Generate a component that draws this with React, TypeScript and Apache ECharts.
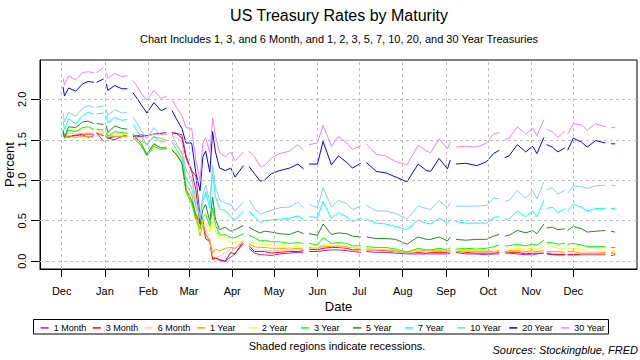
import React, { useEffect, useRef } from "react";
import * as echarts from "echarts";

const FONT = '"Liberation Sans", Arial, sans-serif';

const dates: string[] = [
  "2019-12-02", "2019-12-03", "2019-12-06", "2019-12-11", "2019-12-16", "2019-12-20", "2019-12-24", "2019-12-25", "2019-12-26", "2019-12-31",
  "2020-01-01", "2020-01-02", "2020-01-03", "2020-01-08", "2020-01-13", "2020-01-17", "2020-01-20", "2020-01-21", "2020-01-24", "2020-01-27",
  "2020-01-31", "2020-02-05", "2020-02-10", "2020-02-14", "2020-02-17", "2020-02-18", "2020-02-21", "2020-02-25", "2020-02-28", "2020-03-03",
  "2020-03-06", "2020-03-09", "2020-03-11", "2020-03-13", "2020-03-16", "2020-03-18", "2020-03-20", "2020-03-23", "2020-03-27", "2020-03-31",
  "2020-04-03", "2020-04-09", "2020-04-10", "2020-04-13", "2020-04-17", "2020-04-21", "2020-04-24", "2020-04-29", "2020-05-05", "2020-05-12",
  "2020-05-18", "2020-05-22", "2020-05-25", "2020-05-26", "2020-06-01", "2020-06-05", "2020-06-11", "2020-06-16", "2020-06-22", "2020-06-26",
  "2020-07-02", "2020-07-03", "2020-07-06", "2020-07-13", "2020-07-20", "2020-07-27", "2020-08-04", "2020-08-12", "2020-08-18", "2020-08-21",
  "2020-08-27", "2020-09-02", "2020-09-04", "2020-09-07", "2020-09-08", "2020-09-15", "2020-09-23", "2020-09-30", "2020-10-05", "2020-10-09",
  "2020-10-12", "2020-10-13", "2020-10-16", "2020-10-22", "2020-10-28", "2020-11-02", "2020-11-05", "2020-11-10", "2020-11-11", "2020-11-12",
  "2020-11-16", "2020-11-20", "2020-11-25", "2020-11-26", "2020-11-27", "2020-12-01", "2020-12-07", "2020-12-11", "2020-12-17", "2020-12-24",
  "2020-12-25", "2020-12-28", "2020-12-31",
];

const month1 = [
  1.59, 1.56, 1.53, 1.56, 1.56, 1.53, 1.55, null, 1.59, 1.48,
  null, 1.53, 1.52, 1.50, 1.54, 1.56, null, 1.54, 1.54, 1.54,
  1.55, 1.57, 1.57, 1.57, null, 1.57, 1.58, 1.56, 1.30, 1.12,
  1.05, 0.57, 0.50, 0.33, 0.25, 0.04, 0.04, 0.01, 0.00, 0.05,
  0.09, 0.22, null, 0.16, 0.10, 0.08, 0.08, 0.07, 0.09, 0.10,
  0.11, 0.11, null, 0.12, 0.12, 0.13, 0.14, 0.14, 0.13, 0.12,
  0.11, null, 0.12, 0.11, 0.11, 0.10, 0.09, 0.09, 0.09, 0.09,
  0.09, 0.09, 0.10, null, 0.11, 0.09, 0.09, 0.08, 0.09, 0.09,
  null, 0.10, 0.10, 0.09, 0.08, 0.08, 0.09, 0.10, null, 0.09,
  0.08, 0.08, 0.08, null, 0.08, 0.08, 0.08, 0.08, 0.08, 0.08,
  null, 0.07, 0.08,
];

const month3 = [
  1.58, 1.53, 1.54, 1.55, 1.57, 1.57, 1.57, null, 1.58, 1.55,
  null, 1.54, 1.52, 1.54, 1.54, 1.57, null, 1.55, 1.55, 1.56,
  1.55, 1.57, 1.58, 1.59, null, 1.59, 1.58, 1.52, 1.27, 1.11,
  0.88, 0.45, 0.48, 0.28, 0.24, 0.02, 0.04, 0.02, 0.00, 0.11,
  0.09, 0.25, null, 0.19, 0.12, 0.12, 0.12, 0.10, 0.11, 0.12,
  0.12, 0.13, null, 0.15, 0.14, 0.16, 0.17, 0.17, 0.16, 0.14,
  0.14, null, 0.14, 0.14, 0.13, 0.12, 0.10, 0.11, 0.10, 0.11,
  0.11, 0.11, 0.12, null, 0.13, 0.11, 0.10, 0.10, 0.10, 0.11,
  null, 0.12, 0.11, 0.11, 0.09, 0.10, 0.10, 0.11, null, 0.10,
  0.09, 0.08, 0.08, null, 0.08, 0.08, 0.09, 0.09, 0.09, 0.09,
  null, 0.10, 0.09,
];

const month6 = [
  1.60, 1.56, 1.58, 1.57, 1.58, 1.59, 1.58, null, 1.59, 1.60,
  null, 1.57, 1.55, 1.56, 1.56, 1.56, null, 1.56, 1.53, 1.52,
  1.54, 1.57, 1.56, 1.56, null, 1.55, 1.53, 1.47, 1.11, 1.03,
  0.66, 0.39, 0.46, 0.40, 0.29, 0.06, 0.05, 0.06, 0.11, 0.15,
  0.15, 0.26, null, 0.23, 0.14, 0.14, 0.14, 0.13, 0.13, 0.13,
  0.15, 0.14, null, 0.17, 0.16, 0.18, 0.19, 0.18, 0.17, 0.17,
  0.16, null, 0.16, 0.15, 0.14, 0.12, 0.10, 0.12, 0.11, 0.12,
  0.12, 0.12, 0.12, null, 0.13, 0.12, 0.11, 0.12, 0.11, 0.12,
  null, 0.12, 0.12, 0.12, 0.11, 0.11, 0.11, 0.11, null, 0.11,
  0.10, 0.10, 0.10, null, 0.10, 0.10, 0.09, 0.09, 0.09, 0.09,
  null, 0.10, 0.09,
];

const year1 = [
  1.58, 1.53, 1.55, 1.53, 1.54, 1.54, 1.53, null, 1.54, 1.59,
  null, 1.56, 1.55, 1.54, 1.54, 1.54, null, 1.53, 1.51, 1.48,
  1.45, 1.53, 1.52, 1.49, null, 1.48, 1.43, 1.34, 0.95, 0.83,
  0.56, 0.31, 0.45, 0.34, 0.24, 0.10, 0.15, 0.13, 0.16, 0.17,
  0.16, 0.24, null, 0.21, 0.18, 0.17, 0.17, 0.16, 0.16, 0.15,
  0.16, 0.15, null, 0.17, 0.16, 0.19, 0.18, 0.19, 0.18, 0.17,
  0.15, null, 0.15, 0.14, 0.14, 0.13, 0.12, 0.14, 0.13, 0.13,
  0.13, 0.13, 0.13, null, 0.13, 0.13, 0.12, 0.12, 0.12, 0.13,
  null, 0.12, 0.13, 0.13, 0.12, 0.13, 0.12, 0.13, null, 0.12,
  0.12, 0.12, 0.11, null, 0.12, 0.12, 0.10, 0.10, 0.10, 0.11,
  null, 0.11, 0.10,
];

const year2 = [
  1.61, 1.54, 1.61, 1.61, 1.63, 1.63, 1.63, null, 1.63, 1.58,
  null, 1.58, 1.53, 1.58, 1.58, 1.56, null, 1.52, 1.49, 1.43,
  1.33, 1.44, 1.40, 1.42, null, 1.39, 1.35, 1.24, 0.86, 0.72,
  0.49, 0.38, 0.50, 0.49, 0.36, 0.54, 0.37, 0.28, 0.30, 0.23,
  0.23, 0.25, null, 0.24, 0.22, 0.21, 0.21, 0.20, 0.19, 0.17,
  0.18, 0.17, null, 0.18, 0.16, 0.22, 0.19, 0.20, 0.19, 0.17,
  0.16, null, 0.15, 0.15, 0.15, 0.14, 0.11, 0.15, 0.14, 0.14,
  0.15, 0.13, 0.15, null, 0.13, 0.14, 0.13, 0.13, 0.14, 0.15,
  null, 0.14, 0.14, 0.16, 0.15, 0.16, 0.15, 0.18, null, 0.17,
  0.18, 0.16, 0.16, null, 0.16, 0.16, 0.15, 0.12, 0.12, 0.13,
  null, 0.13, 0.13,
];

const year3 = [
  1.59, 1.52, 1.62, 1.60, 1.65, 1.66, 1.63, null, 1.63, 1.62,
  null, 1.59, 1.54, 1.60, 1.59, 1.58, null, 1.52, 1.48, 1.42,
  1.30, 1.42, 1.38, 1.39, null, 1.37, 1.32, 1.21, 0.85, 0.71,
  0.52, 0.40, 0.55, 0.58, 0.43, 0.66, 0.45, 0.32, 0.33, 0.29,
  0.29, 0.34, null, 0.32, 0.29, 0.25, 0.26, 0.24, 0.24, 0.22,
  0.23, 0.22, null, 0.22, 0.20, 0.29, 0.22, 0.23, 0.22, 0.19,
  0.19, null, 0.18, 0.17, 0.17, 0.15, 0.11, 0.16, 0.14, 0.14,
  0.16, 0.14, 0.17, null, 0.15, 0.16, 0.15, 0.16, 0.18, 0.20,
  null, 0.19, 0.19, 0.21, 0.19, 0.21, 0.20, 0.26, null, 0.23,
  0.23, 0.21, 0.22, null, 0.21, 0.22, 0.20, 0.18, 0.18, 0.18,
  null, 0.17, 0.17,
];

const year5 = [
  1.62, 1.53, 1.66, 1.65, 1.72, 1.73, 1.70, null, 1.70, 1.69,
  null, 1.67, 1.59, 1.67, 1.64, 1.63, null, 1.57, 1.51, 1.45,
  1.32, 1.45, 1.40, 1.40, null, 1.37, 1.32, 1.22, 0.89, 0.75,
  0.58, 0.46, 0.64, 0.70, 0.49, 0.79, 0.52, 0.39, 0.42, 0.37,
  0.39, 0.44, null, 0.42, 0.38, 0.35, 0.37, 0.36, 0.34, 0.33,
  0.37, 0.34, null, 0.34, 0.32, 0.46, 0.33, 0.35, 0.34, 0.31,
  0.30, null, 0.30, 0.28, 0.28, 0.27, 0.21, 0.30, 0.27, 0.27,
  0.30, 0.25, 0.30, null, 0.27, 0.26, 0.27, 0.27, 0.31, 0.33,
  null, 0.31, 0.32, 0.38, 0.35, 0.38, 0.34, 0.46, null, 0.41,
  0.42, 0.39, 0.40, null, 0.38, 0.43, 0.40, 0.36, 0.37, 0.38,
  null, 0.37, 0.36,
];

const year7 = [
  1.73, 1.63, 1.76, 1.70, 1.80, 1.84, 1.82, null, 1.82, 1.83,
  null, 1.79, 1.71, 1.78, 1.74, 1.75, null, 1.69, 1.61, 1.54,
  1.43, 1.55, 1.47, 1.49, null, 1.46, 1.39, 1.27, 1.03, 0.90,
  0.68, 0.57, 0.73, 0.86, 0.65, 1.08, 0.80, 0.64, 0.63, 0.55,
  0.51, 0.62, null, 0.62, 0.55, 0.48, 0.50, 0.51, 0.52, 0.53,
  0.56, 0.52, null, 0.55, 0.54, 0.74, 0.53, 0.60, 0.55, 0.49,
  0.53, null, 0.52, 0.47, 0.46, 0.43, 0.39, 0.51, 0.47, 0.46,
  0.53, 0.47, 0.52, null, 0.49, 0.47, 0.47, 0.47, 0.54, 0.55,
  null, 0.52, 0.52, 0.62, 0.55, 0.62, 0.55, 0.75, null, 0.65,
  0.67, 0.60, 0.65, null, 0.62, 0.70, 0.67, 0.62, 0.65, 0.65,
  null, 0.65, 0.65,
];

const year10 = [
  1.83, 1.72, 1.84, 1.79, 1.89, 1.92, 1.90, null, 1.90, 1.92,
  null, 1.88, 1.80, 1.87, 1.83, 1.84, null, 1.78, 1.70, 1.61,
  1.51, 1.65, 1.56, 1.59, null, 1.56, 1.46, 1.33, 1.13, 1.02,
  0.76, 0.54, 0.82, 0.94, 0.73, 1.18, 0.92, 0.76, 0.72, 0.70,
  0.62, 0.73, null, 0.76, 0.65, 0.58, 0.60, 0.63, 0.66, 0.67,
  0.73, 0.66, null, 0.70, 0.66, 0.91, 0.67, 0.75, 0.71, 0.64,
  0.68, null, 0.69, 0.62, 0.62, 0.59, 0.52, 0.68, 0.65, 0.64,
  0.75, 0.66, 0.72, null, 0.68, 0.68, 0.68, 0.69, 0.78, 0.77,
  null, 0.74, 0.75, 0.87, 0.78, 0.87, 0.77, 0.98, null, 0.88,
  0.91, 0.83, 0.88, null, 0.84, 0.93, 0.92, 0.90, 0.93, 0.94,
  null, 0.94, 0.93,
];

const year20 = [
  2.15, 2.04, 2.14, 2.10, 2.19, 2.22, 2.21, null, 2.21, 2.25,
  null, 2.19, 2.11, 2.17, 2.13, 2.13, null, 2.08, 2.01, 1.93,
  1.83, 1.96, 1.86, 1.89, null, 1.86, 1.76, 1.64, 1.46, 1.46,
  1.09, 0.87, 1.29, 1.36, 1.10, 1.60, 1.35, 1.15, 1.12, 1.15,
  1.04, 1.18, null, 1.17, 1.08, 0.99, 1.00, 1.08, 1.12, 1.15,
  1.20, 1.14, null, 1.20, 1.20, 1.48, 1.19, 1.30, 1.22, 1.15,
  1.21, null, 1.22, 1.11, 1.09, 1.04, 0.98, 1.20, 1.12, 1.11,
  1.27, 1.14, 1.25, null, 1.20, 1.21, 1.18, 1.23, 1.33, 1.37,
  null, 1.28, 1.30, 1.44, 1.35, 1.42, 1.33, 1.53, null, 1.44,
  1.41, 1.35, 1.40, null, 1.37, 1.52, 1.47, 1.41, 1.49, 1.46,
  null, 1.45, 1.45,
];

const year30 = [
  2.26, 2.18, 2.29, 2.24, 2.33, 2.34, 2.33, null, 2.33, 2.39,
  null, 2.33, 2.26, 2.32, 2.28, 2.29, null, 2.23, 2.16, 2.07,
  1.99, 2.11, 2.01, 2.04, null, 2.00, 1.90, 1.80, 1.65, 1.64,
  1.25, 0.99, 1.46, 1.53, 1.34, 1.77, 1.55, 1.34, 1.29, 1.35,
  1.24, 1.35, null, 1.36, 1.29, 1.17, 1.18, 1.27, 1.33, 1.36,
  1.44, 1.37, null, 1.44, 1.46, 1.68, 1.42, 1.54, 1.46, 1.38,
  1.43, null, 1.45, 1.32, 1.30, 1.23, 1.19, 1.43, 1.36, 1.34,
  1.51, 1.39, 1.47, null, 1.41, 1.42, 1.41, 1.46, 1.57, 1.59,
  null, 1.50, 1.52, 1.66, 1.57, 1.64, 1.55, 1.75, null, 1.63,
  1.60, 1.53, 1.61, null, 1.57, 1.70, 1.68, 1.62, 1.70, 1.66,
  null, 1.65, 1.65,
];

const seriesNames = ["1 Month", "3 Month", "6 Month", "1 Year", "2 Year", "3 Year", "5 Year", "7 Year", "10 Year", "20 Year", "30 Year"];
const seriesValues = [month1, month3, month6, year1, year2, year3, year5, year7, year10, year20, year30];
const seriesColors = ["#A020F0", "#FF0000", "#FFC0CB", "#FFA500", "#FFFF00", "#00FF00", "#228B22", "#00FFFF", "#87CEEB", "#0000FF", "#EE82EE"];

const monthTickDates = [
  "2019-12-01", "2020-01-01", "2020-02-01", "2020-03-01", "2020-04-01", "2020-05-01", "2020-06-01",
  "2020-07-01", "2020-08-01", "2020-09-01", "2020-10-01", "2020-11-01", "2020-12-01",
];
const monthTickLabels = ["Dec", "Jan", "Feb", "Mar", "Apr", "May", "Jun", "Jul", "Aug", "Sep", "Oct", "Nov", "Dec"];
const yTicks = [0, 0.5, 1, 1.5, 2];

const titleText = "US Treasury Rates by Maturity";
const subtitleText = "Chart Includes 1, 3, and 6 Month, and 1, 2, 3, 5, 7, 10, 20, and 30 Year Treasuries";
const noteText = "Shaded regions indicate recessions.";
const sourceText = "Sources: Stockingblue, FRED";

const DAY = 86400000;
function ts(s: string): number {
  const [y, m, d] = s.split("-").map(Number);
  return Date.UTC(y, m - 1, d);
}

export default function App() {
  const ref = useRef<HTMLDivElement>(null);

  useEffect(() => {
    document.body.style.margin = "0";
    if (!ref.current) return;
    const chart = echarts.init(ref.current, undefined, { renderer: "svg" });

    const monthTs = monthTickDates.map(ts);
    const labelMap: Record<string, string> = {};
    monthTs.forEach((t, i) => (labelMap[String(t)] = monthTickLabels[i]));

    const xMin = ts("2019-12-01") - 15.5 * DAY;
    const xMax = ts("2020-12-01") + 45.6 * DAY;

    const lineSeries = seriesNames.map((name, si) => ({
      type: "line",
      name,
      data: dates.map((d, i) => [ts(d), seriesValues[si][i] === null ? "-" : seriesValues[si][i]]),
      symbol: "none",
      showSymbol: false,
      connectNulls: false,
      lineStyle: { color: seriesColors[si], width: 1 },
      itemStyle: { color: seriesColors[si] },
      z: 3,
      silent: true,
    }));

    const gridSeries = {
      type: "line",
      name: "grid",
      data: [[monthTs[0], 0]],
      symbol: "none",
      showSymbol: false,
      lineStyle: { opacity: 0 },
      z: 1,
      silent: true,
      markLine: {
        silent: true,
        symbol: ["none", "none"],
        label: { show: false },
        emphasis: { disabled: true },
        lineStyle: { color: "#BEBEBE", type: [3, 3], width: 1 },
        data: [
          ...monthTs.map((t) => ({ xAxis: t })),
          ...yTicks.map((v) => ({ yAxis: v })),
        ],
      },
    };

    const legends = seriesNames.map((name, i) => ({
      data: [name],
      left: 40.7 + i * 52.06,
      top: 323.4,
      padding: 0,
      itemWidth: 8,
      itemHeight: 1.5,
      icon: "rect",
      itemGap: 0,
      selectedMode: false,
      textStyle: { fontSize: 9, fontFamily: FONT, color: "#000" },
    }));

    chart.setOption({
      animation: false,
      backgroundColor: "#fff",
      textStyle: { fontFamily: FONT },
      grid: {
        left: 40,
        top: 60,
        right: 3,
        bottom: 91,
        show: true,
        borderColor: "#000",
        borderWidth: 1,
        containLabel: false,
        outerBoundsMode: "none",
      },
      legend: legends,
      xAxis: {
        type: "value",
        min: xMin,
        max: xMax,
        axisLine: { show: true, onZero: false, lineStyle: { color: "#000", width: 1 } },
        axisTick: { show: true, customValues: monthTs, length: 8, lineStyle: { color: "#000" } },
        axisLabel: {
          customValues: monthTs,
          formatter: (v: number) => labelMap[String(v)] ?? "",
          margin: 16.4,
          fontSize: 11,
          color: "#000",
          fontFamily: FONT,
        },
        splitLine: { show: false },
        name: "Date",
        nameLocation: "middle",
        nameGap: 30.5,
        nameMoveOverlap: false,
        nameTextStyle: { fontSize: 13, color: "#000", fontFamily: FONT },
      },
      yAxis: {
        type: "value",
        min: -0.096,
        max: 2.485,
        axisLine: { show: true, onZero: false, lineStyle: { color: "#000", width: 1 } },
        axisTick: { show: true, customValues: yTicks, length: 9, lineStyle: { color: "#000" } },
        axisLabel: {
          customValues: yTicks,
          formatter: (v: number) => v.toFixed(1),
          rotate: 90,
          margin: 13,
          fontSize: 11,
          color: "#000",
          fontFamily: FONT,
        },
        splitLine: { show: false },
        name: "Percent",
        nameLocation: "middle",
        nameGap: 24.5,
        nameMoveOverlap: false,
        nameTextStyle: { fontSize: 13, color: "#000", fontFamily: FONT },
      },
      graphic: [
        {
          type: "text",
          x: 339,
          y: 15.2,
          style: { text: titleText, fontSize: 16, fontFamily: FONT, fill: "#000", textAlign: "center", textVerticalAlign: "middle" },
        },
        {
          type: "text",
          x: 339,
          y: 38.5,
          style: { text: subtitleText, fontSize: 11, fontFamily: FONT, fill: "#000", textAlign: "center", textVerticalAlign: "middle" },
        },
        {
          type: "rect",
          shape: { x: 33.5, y: 319.5, width: 575, height: 14.5 },
          style: { fill: "none", stroke: "#000", lineWidth: 1 },
        },
        {
          type: "text",
          x: 337,
          y: 346.2,
          style: { text: noteText, fontSize: 11, fontFamily: FONT, fill: "#000", textAlign: "center", textVerticalAlign: "middle" },
        },
        {
          type: "text",
          x: 638,
          y: 350.2,
          style: { text: sourceText, fontSize: 11, fontStyle: "italic", fontFamily: FONT, fill: "#000", textAlign: "right", textVerticalAlign: "middle" },
        },
      ],
      series: [gridSeries, ...lineSeries],
    });

    return () => chart.dispose();
  }, []);

  return <div ref={ref} style={{ width: 640, height: 360 }} />;
}
